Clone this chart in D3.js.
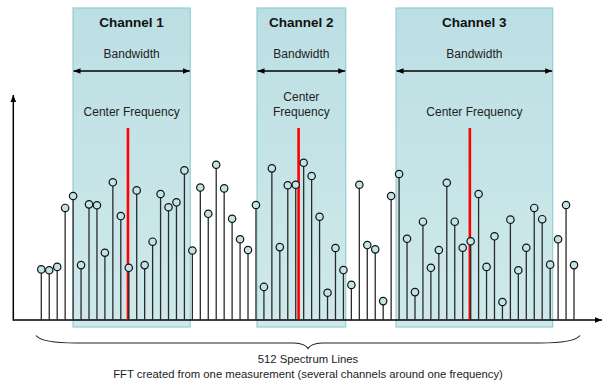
<!DOCTYPE html>
<html><head><meta charset="utf-8">
<script src="https://cdn.jsdelivr.net/npm/d3@7"></script>
<style>html,body{margin:0;padding:0;background:#fff;} svg{display:block;font-family:"Liberation Sans",Arial,sans-serif;}</style>
</head><body>
<svg id="c" width="616" height="383"></svg>
<script>
// ---- data ----
const amplitudes = [22.5,22.1,23.6,49.8,55.1,24.4,51.4,51.0,29.9,61.2,46.2,23.2,57.6,24.4,34.8,56.0,50.1,52.3,66.5,30.9,
  58.9,47.2,69.0,58.5,45.0,35.9,31.1,51.1,14.7,67.4,32.4,59.9,60.1,69.9,64.0,45.9,12.1,32.0,22.2,15.6,
  60.1,33.3,31.4,8.4,55.1,64.9,36.1,12.4,43.7,23.2,31.1,61.0,43.7,32.1,35.0,56.0,23.6,37.2,8.0,44.6,
  22.1,32.1,49.8,44.8,24.6,35.9,51.1,24.4];
const channelNames = ["Channel 1","Channel 2","Channel 3"];
const channelStart = [3.99, 27.13, 44.62];
const channelEnd = [18.73, 38.29, 64.32];
const channelCenter = [10.9, 32.36, 53.9];
const centerLabels = [["Center Frequency"],["Center","Frequency"],["Center Frequency"]];
const bandwidthLabel = "Bandwidth";
const centerLevel = 85.3;
const footerLines = ["512 Spectrum Lines","FFT created from one measurement (several channels around one frequency)"];

// ---- layout ----
const svg = d3.select("#c");
const x = d3.scaleLinear().domain([0, amplitudes.length-1]).range([41.3, 574]);
const y = d3.scaleLinear().domain([0, 100]).range([320, 95]);
const axisLeft = 13.3, axisRight = 602;
const boxTop = 8, boxBottom = 327;

const defs = svg.append("defs");
const g = defs.append("linearGradient").attr("id","boxg").attr("x1",0).attr("y1",0).attr("x2",0).attr("y2",1);
g.append("stop").attr("offset","0%").attr("stop-color","#bcdfe3");
g.append("stop").attr("offset","100%").attr("stop-color","#cfe9eb");
["end","start"].forEach(k=>{
  defs.append("marker").attr("id","ah-"+k).attr("viewBox","0 0 10 10").attr("refX",k==="end"?10:0).attr("refY",5)
    .attr("markerWidth",7).attr("markerHeight",7).attr("markerUnits","userSpaceOnUse").attr("orient","auto")
    .append("path").attr("d", k==="end" ? "M0,1 L10,5 L0,9 Z" : "M10,1 L0,5 L10,9 Z").attr("fill","#000");
});

// channel boxes
const ch = svg.append("g").selectAll("g").data(channelNames).join("g");
ch.append("rect")
  .attr("x",(d,i)=>x(channelStart[i])).attr("y",boxTop)
  .attr("width",(d,i)=>x(channelEnd[i])-x(channelStart[i])).attr("height",boxBottom-boxTop)
  .attr("fill","url(#boxg)").attr("stroke","#93cdd2").attr("stroke-width",1.2);

// axes
svg.append("line").attr("x1",axisLeft).attr("x2",axisRight).attr("y1",y(0)).attr("y2",y(0))
  .attr("stroke","#000").attr("stroke-width",1.5).attr("marker-end","url(#ah-end)");
svg.append("line").attr("x1",axisLeft).attr("x2",axisLeft).attr("y1",y(0)+0.7).attr("y2",y(100))
  .attr("stroke","#000").attr("stroke-width",1.5).attr("marker-end","url(#ah-end)");

// stems
svg.append("g").selectAll("line").data(amplitudes).join("line")
  .attr("x1",(d,i)=>x(i)).attr("x2",(d,i)=>x(i)).attr("y1",y(0)).attr("y2",d=>y(d))
  .attr("stroke","#2a2a2a").attr("stroke-width",1.3);

// center frequency lines
ch.append("line")
  .attr("x1",(d,i)=>x(channelCenter[i])).attr("x2",(d,i)=>x(channelCenter[i]))
  .attr("y1",y(centerLevel)).attr("y2",y(0)-1)
  .attr("stroke","#ff0000").attr("stroke-width",2.6);

// markers
svg.append("g").selectAll("circle").data(amplitudes).join("circle")
  .attr("cx",(d,i)=>x(i)).attr("cy",d=>y(d)).attr("r",3.7)
  .attr("fill","#c4e3e6").attr("stroke","#111").attr("stroke-width",1.2);

// labels in channel boxes
const mid = i => (x(channelStart[i])+x(channelEnd[i]))/2;
ch.append("text").attr("x",(d,i)=>mid(i)).attr("y",26.5).attr("text-anchor","middle")
  .attr("font-size",13.5).attr("font-weight","bold").attr("fill","#111").text(d=>d);
ch.append("text").attr("x",(d,i)=>mid(i)).attr("y",57.5).attr("text-anchor","middle")
  .attr("font-size",12).attr("fill","#222").text(bandwidthLabel);
ch.append("line")
  .attr("x1",(d,i)=>x(channelStart[i])+0.5).attr("x2",(d,i)=>x(channelEnd[i])-0.5)
  .attr("y1",71).attr("y2",71).attr("stroke","#000").attr("stroke-width",1.3)
  .attr("marker-start","url(#ah-start)").attr("marker-end","url(#ah-end)");
ch.each(function(d,i){
  const lines = centerLabels[i];
  const sel = d3.select(this);
  lines.forEach((t,j)=>{
    sel.append("text").attr("x",mid(i)).attr("y",116-(lines.length-1-j)*15)
      .attr("text-anchor","middle").attr("font-size",12).attr("fill","#222").text(t);
  });
});

// brace
const bL = 36, bR = 580, bM = (bL+bR)/2;
svg.append("path")
  .attr("d",`M${bL},335.5 Q${bL+6},343 ${bL+40},343 L${bM-14},343 Q${bM-3},343.5 ${bM},348.5 Q${bM+3},343.5 ${bM+14},343 L${bR-40},343 Q${bR-6},343 ${bR},335.5`)
  .attr("fill","none").attr("stroke","#222").attr("stroke-width",1.2);

svg.append("g").selectAll("text").data(footerLines).join("text")
  .attr("x",bM).attr("y",(d,i)=>363+i*15).attr("text-anchor","middle")
  .attr("font-size",11.3).attr("fill","#222").text(d=>d);
</script>
</body></html>
